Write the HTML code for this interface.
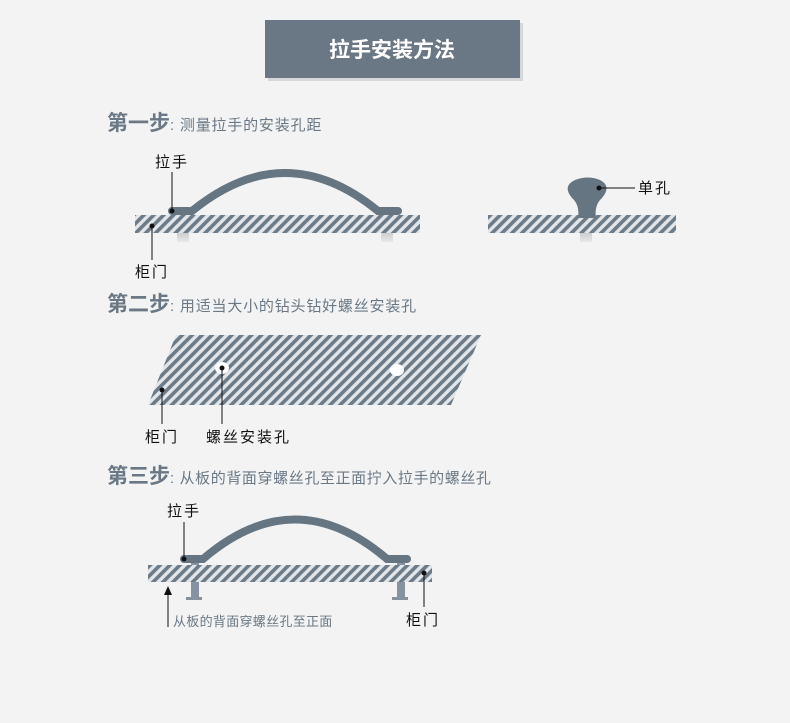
<!DOCTYPE html>
<html><head><meta charset="utf-8"><style>
body{margin:0;width:790px;height:723px;background:#f3f3f3;overflow:hidden;font-family:"Liberation Sans","Noto Sans CJK SC",sans-serif;}
</style></head><body>
<svg width="790" height="723" xmlns="http://www.w3.org/2000/svg" style="position:absolute;left:0;top:0">
<defs>
<pattern id="h" patternUnits="userSpaceOnUse" width="7" height="7" patternTransform="rotate(45)">
<rect width="7" height="7" fill="#e2e6e9"/><rect width="3.6" height="7" fill="#6b7b88"/>
</pattern>
<linearGradient id="sc" x1="0" y1="0" x2="0" y2="1"><stop offset="0" stop-color="#9aa3aa"/><stop offset="1" stop-color="#e8e8e8"/></linearGradient>
</defs>
<g font-family="Liberation Sans, Noto Sans CJK SC, sans-serif">
<rect x="268" y="23" width="255" height="58" fill="#d5d7d9"/>
<rect x="265" y="20" width="255" height="58" fill="#6a7885"/>
<text x="392" y="57" font-size="21" font-weight="bold" fill="#fff" text-anchor="middle">拉手安装方法</text>

<text x="107" y="130" font-size="21" fill="#6a7885" font-weight="bold">第一步<tspan font-size="15" font-weight="normal" letter-spacing="0.8">: 测量拉手的安装孔距</tspan></text>
<text x="107" y="311" font-size="21" fill="#6a7885" font-weight="bold">第二步<tspan font-size="15" font-weight="normal" letter-spacing="0.8">: 用适当大小的钻头钻好螺丝安装孔</tspan></text>
<text x="107" y="483" font-size="21" fill="#6a7885" font-weight="bold">第三步<tspan font-size="15" font-weight="normal" letter-spacing="0.6">: 从板的背面穿螺丝孔至正面拧入拉手的螺丝孔</tspan></text>

<!-- step1 -->
<rect x="177" y="218" width="12" height="24" fill="url(#sc)"/>
<rect x="381" y="218" width="12" height="24" fill="url(#sc)"/>
<rect x="135" y="215" width="285" height="18" fill="url(#h)"/>
<path d="M172 211 H192 Q285 135 378 211 H398" fill="none" stroke="#657582" stroke-width="8" stroke-linecap="round"/>
<circle cx="172" cy="211" r="2.5" fill="#111"/>
<line x1="172" y1="211" x2="172" y2="172" stroke="#111"/>
<text x="155" y="167" font-size="15" fill="#111" letter-spacing="2">拉手</text>
<circle cx="152" cy="226" r="2.5" fill="#111"/>
<line x1="152" y1="226" x2="152" y2="260" stroke="#111"/>
<text x="135" y="277" font-size="15" fill="#111" letter-spacing="2">柜门</text>

<rect x="580" y="218" width="12" height="24" fill="url(#sc)"/>
<rect x="488" y="215" width="188" height="18" fill="url(#h)"/>
<path d="M578 218 Q580 205 572 198 Q562 186 575 180 Q588 175 600 180 Q612 186 602 198 Q594 205 596 218 Z" fill="#657582"/>
<circle cx="599" cy="188" r="2.5" fill="#111"/>
<line x1="599" y1="188" x2="635" y2="188" stroke="#111"/>
<text x="638" y="193" font-size="15" fill="#111" letter-spacing="2">单孔</text>

<!-- step2 -->
<polygon points="176,335 481,335 451,405 148,405" fill="url(#h)"/>
<ellipse cx="222" cy="368" rx="7" ry="6" fill="#fff"/>
<ellipse cx="397" cy="370" rx="7" ry="6" fill="#fff"/>
<circle cx="222" cy="368" r="2.5" fill="#111"/>
<line x1="222" y1="368" x2="222" y2="424" stroke="#111"/>
<text x="206" y="442" font-size="15" fill="#111" letter-spacing="2">螺丝安装孔</text>
<circle cx="162" cy="390" r="2.5" fill="#111"/>
<line x1="162" y1="390" x2="162" y2="424" stroke="#111"/>
<text x="145" y="442" font-size="15" fill="#111" letter-spacing="2">柜门</text>

<!-- step3 -->
<rect x="191" y="561" width="8" height="36" fill="#8593a0"/>
<rect x="186" y="597" width="16" height="3" fill="#8593a0"/>
<rect x="397" y="561" width="8" height="36" fill="#8593a0"/>
<rect x="392" y="597" width="16" height="3" fill="#8593a0"/>
<rect x="148" y="565" width="284" height="17" fill="url(#h)"/>
<path d="M184 559 H203 Q295 480 387 559 H407" fill="none" stroke="#657582" stroke-width="8" stroke-linecap="round"/>
<circle cx="184" cy="559" r="2.5" fill="#111"/>
<line x1="184" y1="559" x2="184" y2="522" stroke="#111"/>
<text x="167" y="516" font-size="15" fill="#111" letter-spacing="2">拉手</text>
<circle cx="424" cy="573" r="2.5" fill="#111"/>
<line x1="424" y1="573" x2="424" y2="607" stroke="#111"/>
<text x="406" y="625" font-size="15" fill="#111" letter-spacing="2">柜门</text>
<line x1="168" y1="592" x2="168" y2="627" stroke="#111"/>
<polygon points="168,586 164,595 172,595" fill="#111"/>
<text x="173" y="626" font-size="13" fill="#6a7885" letter-spacing="0.3">从板的背面穿螺丝孔至正面</text>
</g>
</svg>
</body></html>
